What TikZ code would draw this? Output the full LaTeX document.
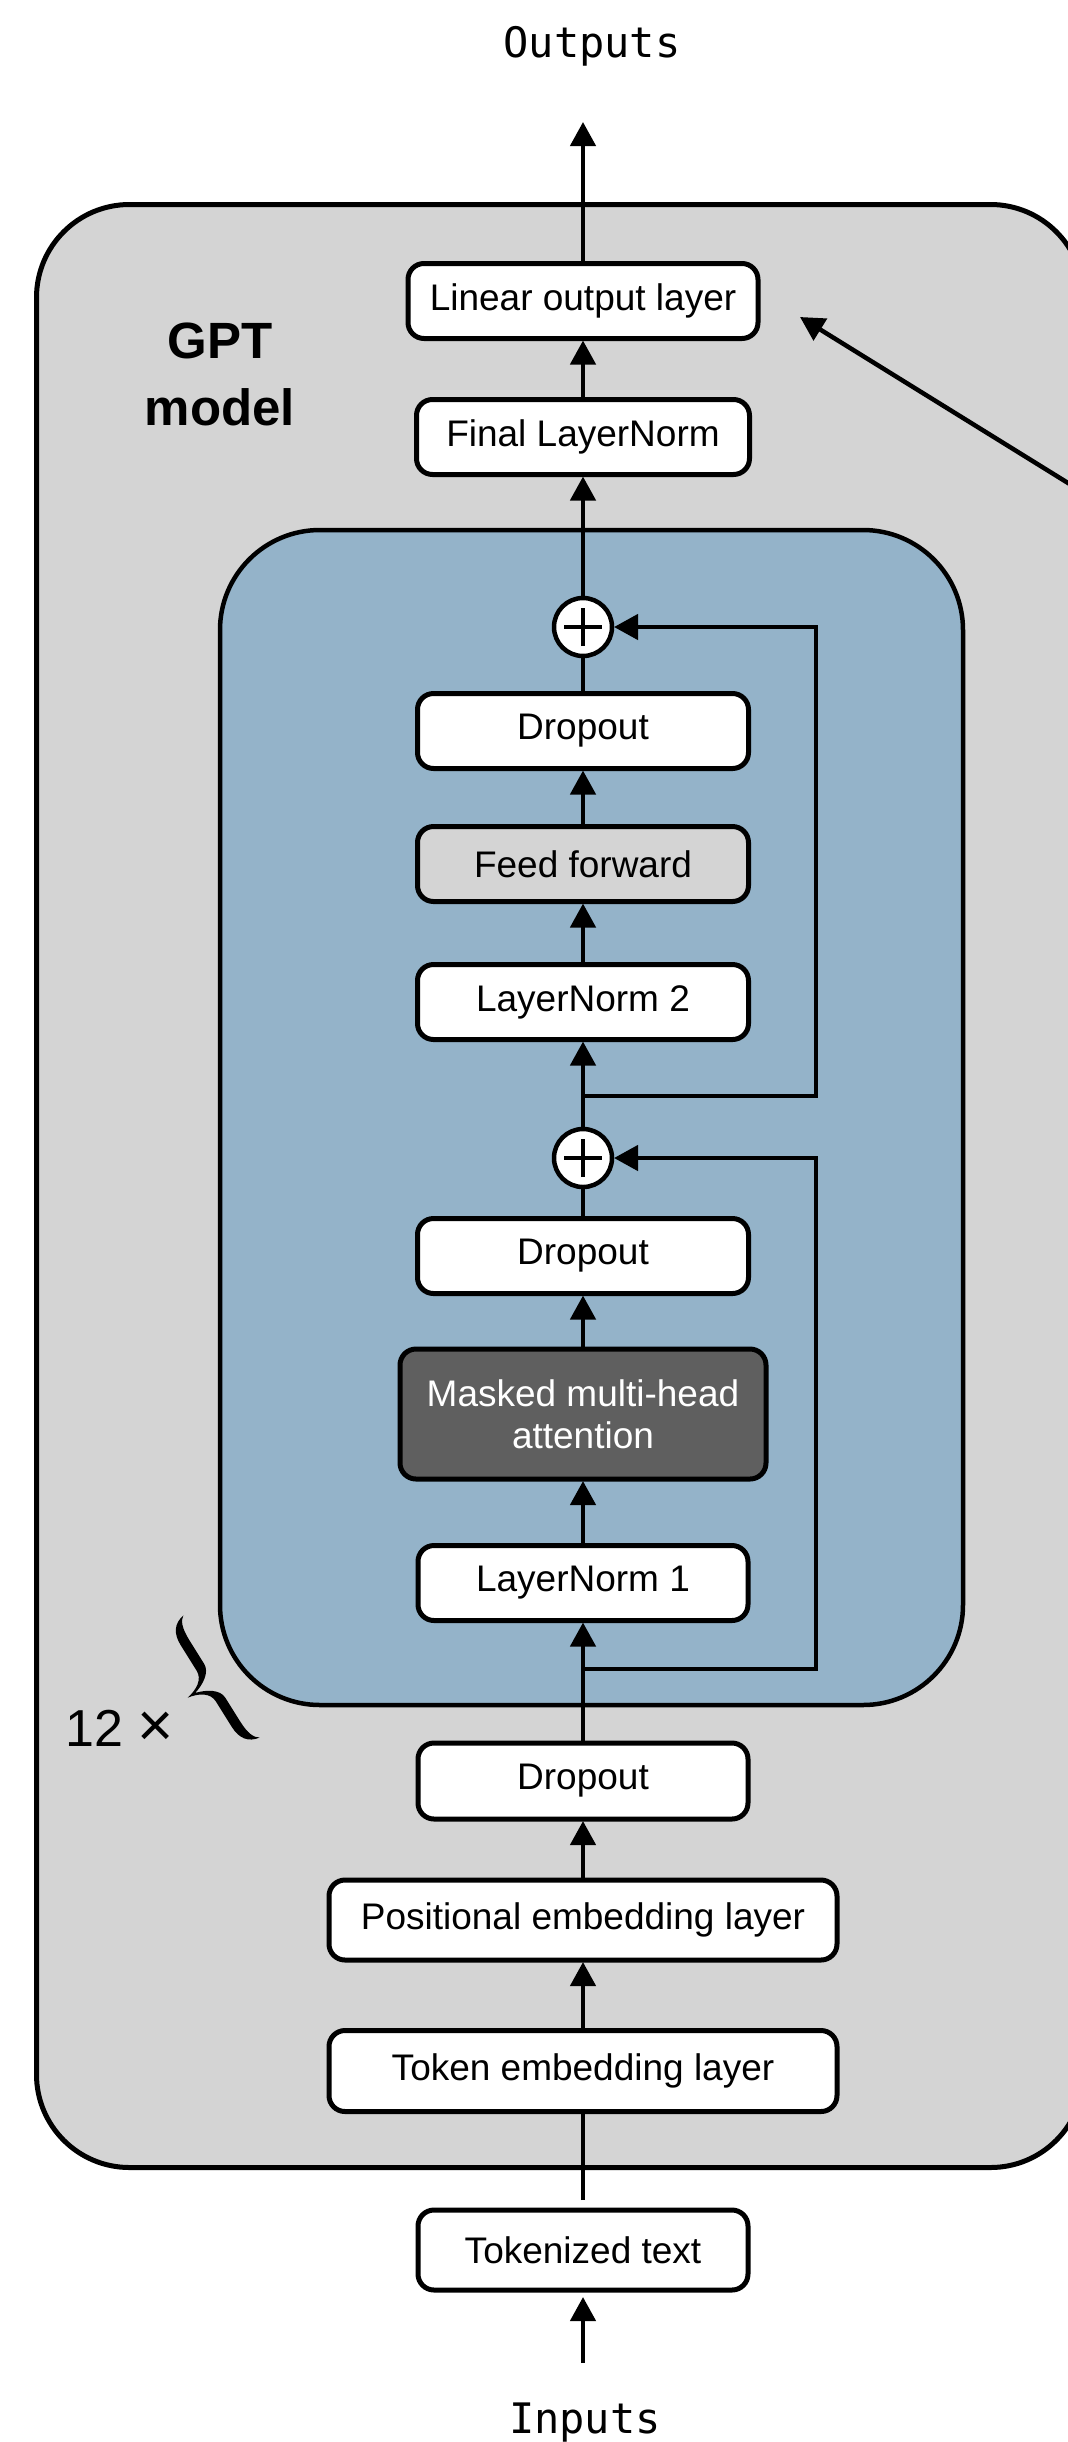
\documentclass[tikz,border=0pt]{standalone}
\usepackage{fontspec}
\newfontfamily\sansf{Liberation Sans}
\newfontfamily\monof{DejaVu Sans Mono}
\usetikzlibrary{arrows.meta}
\definecolor{modelgray}{HTML}{D4D4D4}
\definecolor{blockblue}{HTML}{94B3C9}
\definecolor{attgray}{HTML}{5F5F5F}

\begin{document}
\begin{tikzpicture}[x=1pt, y=-1pt,
  layer/.style={draw, line width=5pt, rounded corners=16pt, fill=white,
    minimum width=331pt, minimum height=75pt, inner sep=0pt, outer sep=0pt,
    align=center, font=\sansf\fontsize{37}{42}\selectfont},
  addnode/.style={circle, draw, line width=4.5pt, fill=white, minimum size=58pt,
    inner sep=0pt, outer sep=0pt,
    path picture={
      \draw[line width=4pt] ([xshift=-19pt]path picture bounding box.center) -- ([xshift=19pt]path picture bounding box.center);
      \draw[line width=4pt] ([yshift=-19pt]path picture bounding box.center) -- ([yshift=19pt]path picture bounding box.center);}},
  flow/.style={line width=4.5pt, -{Triangle[length=24pt, width=25pt]}, shorten >=2pt},
  wire/.style={line width=4.5pt},
  container/.style={draw, inner sep=0pt, outer sep=0pt},
]
\path[use as bounding box] (0,0) rectangle (1068,2442);
\clip (0,0) rectangle (1068,2442);

% model frame and repeated transformer block
\node[container, line width=5pt, fill=modelgray, rounded corners=93pt,
  minimum width=1047pt, minimum height=1963pt] (model) at (560,1186) {};
\node[container, line width=4.5pt, fill=blockblue, rounded corners=100pt,
  minimum width=743pt, minimum height=1175pt] (block) at (591.5,1117.5) {};

% layers
\node[layer, minimum width=350pt] (lin) at (583,301) {Linear output layer};
\node[layer, minimum width=333pt] (fln) at (583,437) {Final LayerNorm};
\node[addnode] (plus2) at (583,627) {};
\node[layer] (do2) at (583,731) {Dropout};
\node[layer, fill=modelgray] (ff) at (583,864) {Feed forward};
\node[layer] (ln2) at (583,1002) {LayerNorm 2};
\node[addnode] (plus1) at (583,1158) {};
\node[layer] (do1) at (583,1256) {Dropout};
\node[layer, fill=attgray, text=white, minimum width=366pt, minimum height=130pt]
  (mha) at (583,1414) {Masked multi-head\\attention};
\node[layer, minimum width=330pt] (ln1) at (583,1583) {LayerNorm 1};
\node[layer, minimum width=330pt, minimum height=76pt] (drop0) at (583,1781) {Dropout};
\node[layer, minimum width=508pt, minimum height=80pt] (pos) at (583,1920) {Positional embedding layer};
\node[layer, minimum width=508pt, minimum height=81pt] (tok) at (583,2071) {Token embedding layer};
\node[layer, minimum width=330pt, minimum height=80pt] (tkt) at (583,2250) {Tokenized text};

% labels
\node[font=\monof\fontsize{42}{42}\selectfont, anchor=base, inner sep=0pt] (outlbl) at (592,57) {Outputs};
\node[font=\monof\fontsize{42}{42}\selectfont, anchor=base, inner sep=0pt] (inlbl) at (585,2433) {Inputs};
\node[font=\sansf\bfseries\fontsize{51}{51}\selectfont, anchor=base, inner sep=0pt] (gpt1) at (220,358) {GPT};
\node[font=\sansf\bfseries\fontsize{51}{51}\selectfont, anchor=base, inner sep=0pt] (gpt2) at (220,425) {model};
\node[font=\sansf\fontsize{52}{52}\selectfont, anchor=base west, inner sep=0pt] (reps) at (65,1746) {12 {\fontsize{62}{62}\selectfont ×}};

% tilted curly brace marking the repeated block
\begin{scope}[shift={(221.5,1676.5)}, rotate=32]
  \fill (0,-72) .. controls (-12,-70) and (-18,-62) .. (-18,-48) -- (-18,-18)
    .. controls (-18,-8) and (-28,-2) .. (-40,0)
    .. controls (-28,2) and (-18,8) .. (-18,18) -- (-18,48)
    .. controls (-18,62) and (-12,70) .. (0,72)
    .. controls (-5,69) and (-8,62) .. (-8,48) -- (-8,20)
    .. controls (-8,10) and (-20,3) .. (-31,0)
    .. controls (-20,-3) and (-8,-10) .. (-8,-20) -- (-8,-48)
    .. controls (-8,-62) and (-5,-69) .. (0,-72) -- cycle;
\end{scope}

% connector end points
\coordinate (otip) at (583,120);
\coordinate (itail) at (583,2363);
\coordinate (b2) at (583,1096);
\coordinate (r2) at (816,1096);
\coordinate (b1) at (583,1669);
\coordinate (r1) at (816,1669);
\coordinate (ext) at (1110,509);
\coordinate (ltip) at (800,317);

% main data flow
\draw[flow] (lin.north) -- (otip);
\draw[flow] (fln.north) -- (lin.south);
\draw[flow] (plus2.north) -- (fln.south);
\draw[wire] (do2.north) -- (plus2.south);
\draw[flow] (ff.north) -- (do2.south);
\draw[flow] (ln2.north) -- (ff.south);
\draw[flow] (plus1.north) -- (ln2.south);
\draw[wire] (do1.north) -- (plus1.south);
\draw[flow] (mha.north) -- (do1.south);
\draw[flow] (ln1.north) -- (mha.south);
\draw[flow] (drop0.north) -- (ln1.south);
\draw[flow] (pos.north) -- (drop0.south);
\draw[flow] (tok.north) -- (pos.south);
\draw[wire, shorten <=10pt] (tkt.north) -- (tok.south);
\draw[flow, shorten >=7pt] (itail) -- (tkt.south);

% shortcut connections
\draw[flow] (b2) -- (r2) |- (plus2.east);
\draw[flow] (b1) -- (r1) |- (plus1.east);

% pointer from the right
\draw[flow, shorten >=0pt] (ext) -- (ltip);
\end{tikzpicture}
\end{document}
